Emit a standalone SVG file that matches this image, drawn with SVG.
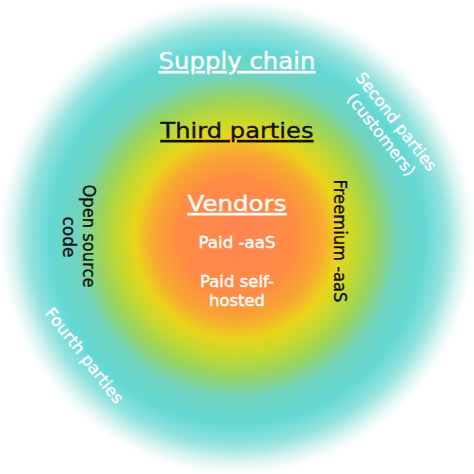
<svg xmlns="http://www.w3.org/2000/svg" width="474" height="474" viewBox="0 0 474 474">
<defs>
<radialGradient id="bg" gradientUnits="userSpaceOnUse" cx="237" cy="237" r="237">
<stop offset="0" stop-color="#FF8552"/>
<stop offset="0.25" stop-color="#FF8C45"/>
<stop offset="0.36" stop-color="#F7AA30"/>
<stop offset="0.43" stop-color="#EAD41C"/>
<stop offset="0.50" stop-color="#C6D82E"/>
<stop offset="0.58" stop-color="#9CD45A"/>
<stop offset="0.68" stop-color="#70D4C0"/>
<stop offset="0.79" stop-color="#64D8D4"/>
<stop offset="0.88" stop-color="#96E3DF"/>
<stop offset="0.95" stop-color="#DDF5F3"/>
<stop offset="1" stop-color="#FFFFFF"/>
</radialGradient>
<style>
text{font-family:"DejaVu Sans","Liberation Sans",sans-serif;text-anchor:middle;stroke-width:0.35;}
.w{fill:#FFFFFF;stroke:#FFFFFF;}
.k{fill:#111111;stroke:#111111;}
.u{text-decoration:underline;}
</style>
</defs>
<rect width="474" height="474" fill="#FFFFFF"/>
<circle id="background" cx="237" cy="237" r="237" fill="url(#bg)"/>
<g id="supply-chain"><text class="w u" x="237" y="69" font-size="23" textLength="157" lengthAdjust="spacingAndGlyphs">Supply chain</text></g>
<g id="third-parties"><text class="k u" x="237" y="138" font-size="22" textLength="153" lengthAdjust="spacingAndGlyphs">Third parties</text></g>
<g id="vendors">
<text class="w u" x="237" y="211" font-size="22" textLength="99" lengthAdjust="spacingAndGlyphs">Vendors</text>
<text class="w" x="237" y="248" font-size="15" textLength="77" lengthAdjust="spacingAndGlyphs">Paid -aaS</text>
<text class="w" x="237" y="287" font-size="15" textLength="74" lengthAdjust="spacingAndGlyphs">Paid self-</text>
<text class="w" x="237" y="306" font-size="15" textLength="56" lengthAdjust="spacingAndGlyphs">hosted</text>
</g>
<g id="freemium"><text class="k" transform="translate(334,241) rotate(90)" font-size="17" textLength="123" lengthAdjust="spacingAndGlyphs">Freemium -aaS</text></g>
<g id="open-source">
<text class="k" transform="translate(83,236) rotate(90)" font-size="17" textLength="103" lengthAdjust="spacingAndGlyphs">Open source</text>
<text class="k" transform="translate(63,237) rotate(90)" font-size="17" textLength="41" lengthAdjust="spacingAndGlyphs">code</text>
</g>
<g id="second-parties">
<text class="w" transform="translate(392,125) rotate(52)" font-size="16" textLength="120" lengthAdjust="spacingAndGlyphs">Second parties</text>
<text class="w" transform="translate(377,138) rotate(52)" font-size="16" textLength="100" lengthAdjust="spacingAndGlyphs">(customers)</text>
</g>
<g id="fourth-parties"><text class="w" transform="translate(80,359) rotate(52)" font-size="16" textLength="116" lengthAdjust="spacingAndGlyphs">Fourth parties</text></g>
<g id="connectors"/>
</svg>
